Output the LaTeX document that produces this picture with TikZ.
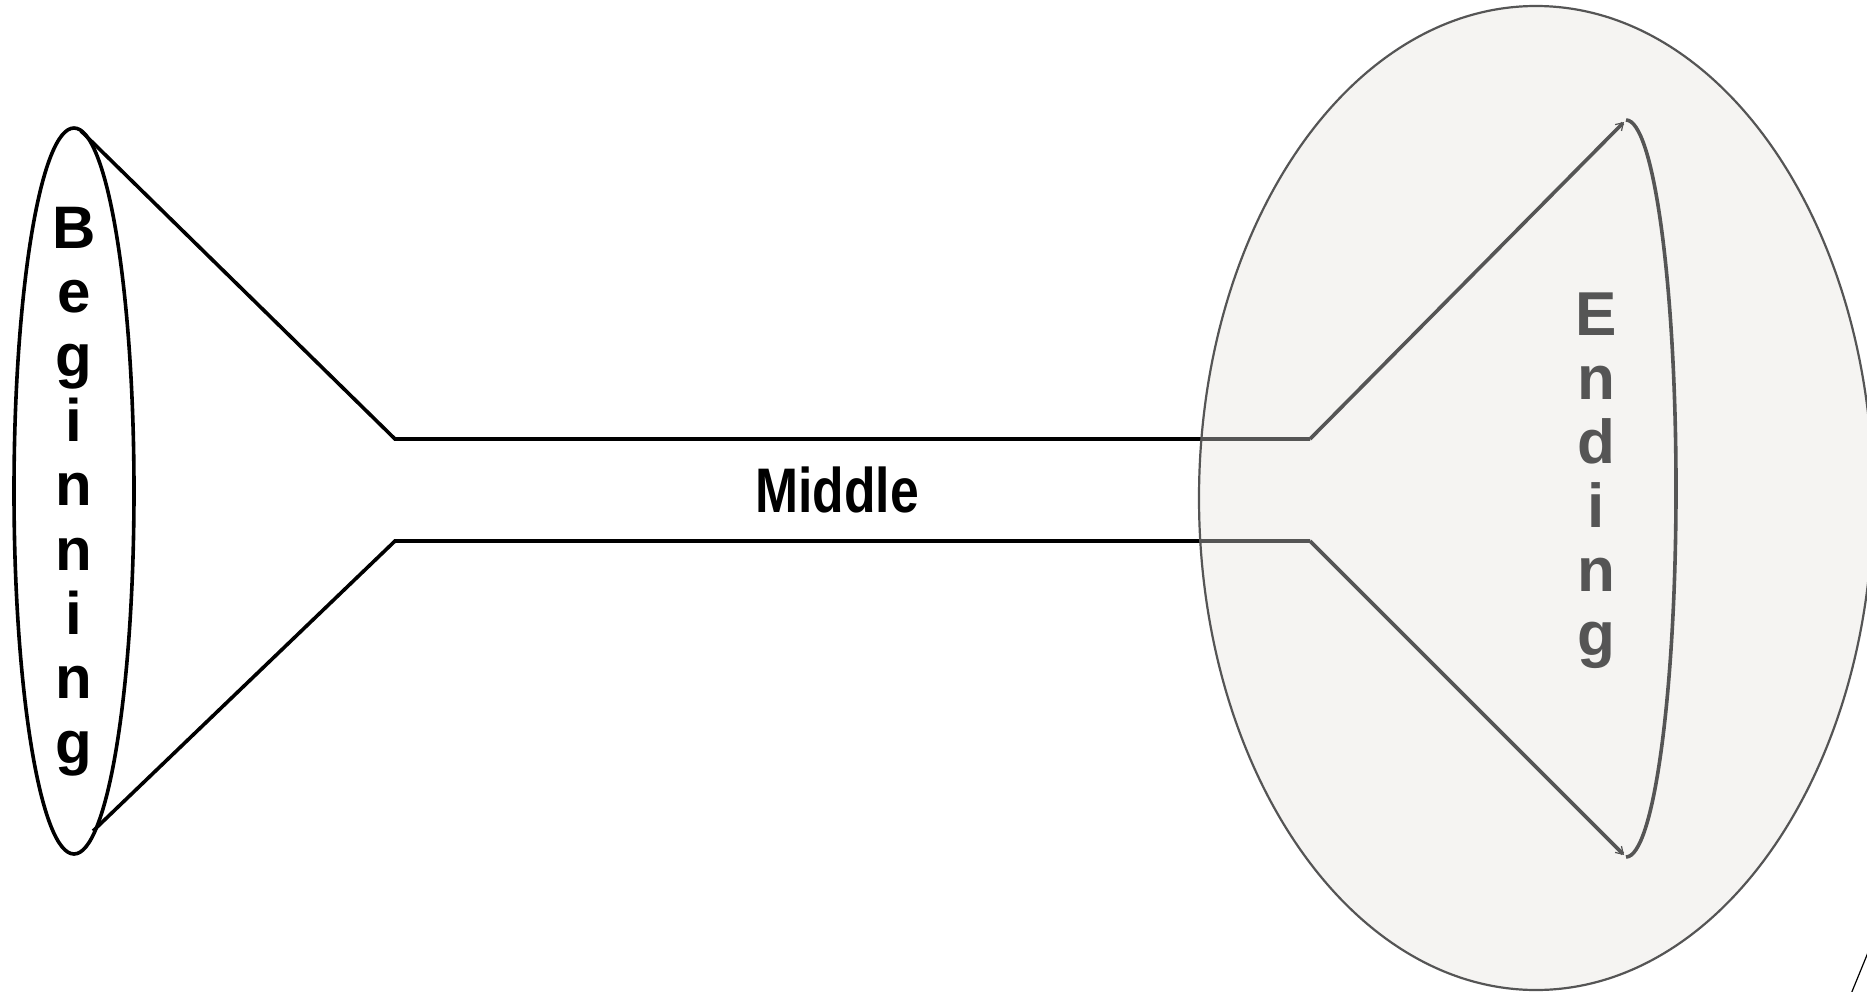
\documentclass[tikz,border=0pt]{standalone}
\usepackage{fontspec}
\setmainfont{Liberation Sans}
\usetikzlibrary{arrows.meta}
\definecolor{dgray}{HTML}{555555}
\definecolor{lfill}{HTML}{F5F4F2}
\begin{document}
\begin{tikzpicture}[x=1pt,y=-1pt,
  blk/.style={line width=3.6pt,black},
  gry/.style={line width=3.6pt,dgray},
  barb/.style={-{Straight Barb[length=7pt,width=9pt,line width=1.2pt]}},
  begletter/.style={anchor=base,inner sep=0pt,font=\fontsize{60}{60}\selectfont\bfseries,text=black},
  endletter/.style={anchor=base,inner sep=0pt,font=\fontsize{62}{62}\selectfont\bfseries,text=dgray},
]
\useasboundingbox (0,0) rectangle (1867,992);
% big background ellipse (fill)
\fill[lfill] (1536,498) ellipse [x radius=337, y radius=492];
% named points
\coordinate (bt) at (81,131);
\coordinate (bb) at (93,831);
\coordinate (jt) at (395,439);
\coordinate (jb) at (395,541);
\coordinate (et) at (1310,439);
\coordinate (eb) at (1310,541);
\coordinate (mt) at (1624,122);
\coordinate (mb) at (1624,855);
\coordinate (sl1) at (1869,950);
\coordinate (sl2) at (1851,994);
% beginning ellipse and funnel
\draw[blk] (74,491) ellipse [x radius=60, y radius=363];
\draw[blk] (bt) -- (jt) -- (et);
\draw[blk] (bb) -- (jb) -- (eb);
% gray portion of middle lines inside big ellipse
\begin{scope}
  \clip (1536,498) ellipse [x radius=337, y radius=492];
  \draw[gry] (jt) -- (et);
  \draw[gry] (jb) -- (eb);
\end{scope}
% big ellipse outline
\draw[dgray,line width=2.2pt] (1536,498) ellipse [x radius=337, y radius=492];
% ending funnel
\draw[gry,barb] (et) -- (mt);
\draw[gry,barb] (eb) -- (mb);
\draw[gry] (1626,120) arc[start angle=-90, end angle=90, x radius=50, y radius=368.5];
% texts
\node[anchor=base,inner sep=0pt,font=\fontsize{63}{63}\selectfont\bfseries] (mid) at (837,512) {\scalebox{0.82}[1]{Middle}};
\foreach \l [count=\i] in {B,e,g,i,n,n,i,n,g} {
  \node[begletter] (b\i) at (74,{248+64.4*(\i-1)}) {\l};
}
\foreach \l [count=\i] in {E,n,d,i,n,g} {
  \node[endletter] (e\i) at (1596,{335+64*(\i-1)}) {\l};
}
% small line at bottom right corner
\draw[black,line width=1.2pt] (sl1) -- (sl2);
\end{tikzpicture}
\end{document}
